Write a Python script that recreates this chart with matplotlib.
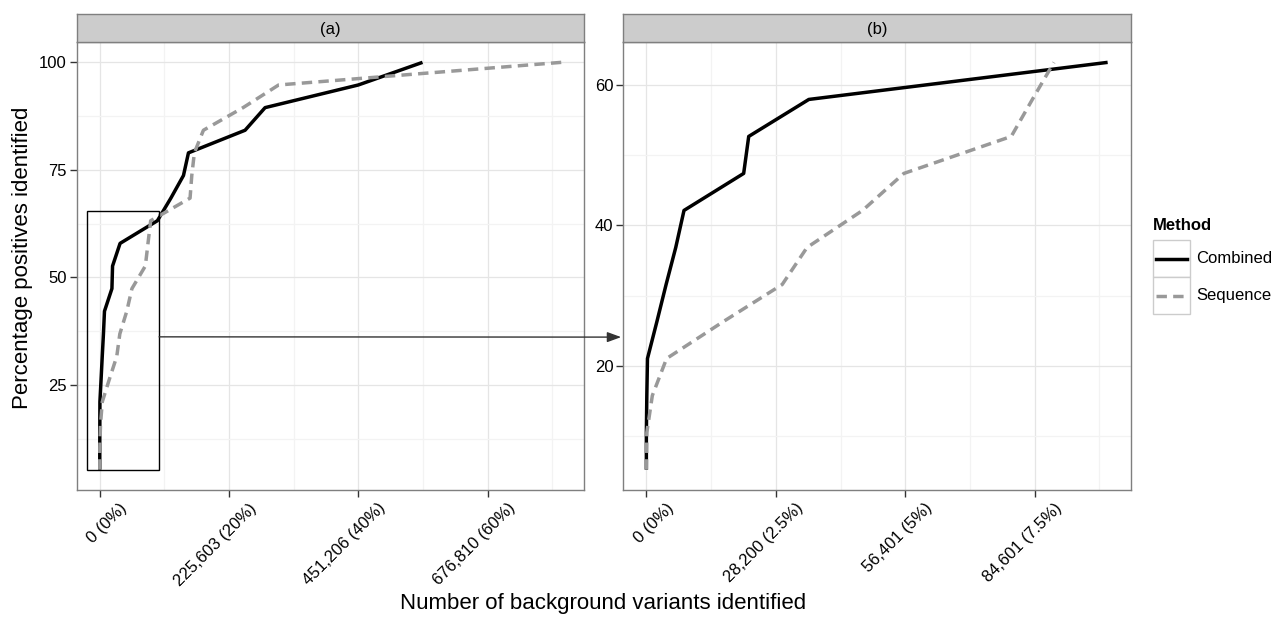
import matplotlib
matplotlib.use("Agg")
import matplotlib.pyplot as plt
from matplotlib.patches import Rectangle, ConnectionPatch
from matplotlib.lines import Line2D
from matplotlib.transforms import ScaledTranslation
import numpy as np

plt.rcParams['font.family'] = ['Liberation Sans', 'DejaVu Sans']

# 19 positives -> each step is one more positive found
pct_found = [5.26, 10.53, 15.79, 21.05, 26.32, 31.58, 36.84, 42.11, 47.37, 52.63,
             57.89, 63.16, 68.42, 73.68, 78.95, 84.21, 89.47, 94.74, 100.0]
combined_bg = [0, 0, 100, 240, 2300, 4300, 6400, 8200, 21200, 22300,
               35400, 100500, 124000, 146000, 154700, 253500, 288400, 451000, 563000]
sequence_bg = [0, 100, 1300, 4400, 16800, 29600, 35000, 47100, 56100, 79500,
               84100, 88800, 157500, 160500, 165000, 180800, 250000, 312000, 805000]
methods = ["Combined", "Sequence"]
total_bg = 1128016
n_zoom = 12  # panel (b) shows the first 12 positives

ticks_a_pct = [0, 20, 40, 60]
ticks_a_labels = ["0 (0%)", "225,603 (20%)", "451,206 (40%)", "676,810 (60%)"]
ticks_b_pct = [0, 2.5, 5, 7.5]
ticks_b_labels = ["0 (0%)", "28,200 (2.5%)", "56,401 (5%)", "84,601 (7.5%)"]
yticks_a = [25, 50, 75, 100]
yticks_b = [20, 40, 60]

styles = {"Combined": dict(color="black", lw=2.5, ls="-"),
          "Sequence": dict(color="#999999", lw=2.5, ls=(0, (3.0, 1.8)))}

W, H = 1276, 619
fig = plt.figure(figsize=(W / 100, H / 100), dpi=100)


def add_panel(left_px, right_px, title):
    ax = fig.add_axes([left_px / W, (H - 490) / H, (right_px - left_px) / W, 448 / H])
    st = fig.add_axes([left_px / W, (H - 42) / H, (right_px - left_px) / W, 28 / H])
    st.set_facecolor("#CCCCCC")
    st.set_xticks([])
    st.set_yticks([])
    for s in st.spines.values():
        s.set_color("#7F7F7F")
        s.set_linewidth(1.0)
    st.text(0.5, 0.45, title, ha="center", va="center", fontsize=12, transform=st.transAxes)
    return ax


def expand(lo, hi):
    span = hi - lo
    return lo - 0.05 * span, hi + 0.05 * span


def mids(majors, lo, hi):
    majors = np.asarray(majors, dtype=float)
    step = majors[1] - majors[0]
    cand = np.concatenate([[majors[0] - step / 2], majors + step / 2])
    return [m for m in cand if lo <= m <= hi]


def style_axes(ax, xt, xl, yt):
    xlo, xhi = ax.get_xlim()
    ylo, yhi = ax.get_ylim()
    ax.set_xticks(xt)
    ax.set_xticklabels(xl, rotation=45, ha="right", va="center", rotation_mode="anchor", fontsize=12)
    ax.set_yticks(yt)
    ax.set_yticklabels([str(v) for v in yt], fontsize=12)
    ax.set_xticks(mids(xt, xlo, xhi), minor=True)
    ax.set_yticks(mids(yt, ylo, yhi), minor=True)
    ax.tick_params(which="minor", length=0)
    ax.tick_params(which="major", length=5, width=1.0, color="#333333", pad=2)
    ax.grid(which="major", color="#E5E5E5", lw=0.9)
    ax.grid(which="minor", color="#F3F3F3", lw=0.9)
    ax.set_axisbelow(True)
    for s in ax.spines.values():
        s.set_color("#7F7F7F")
        s.set_linewidth(1.0)
    off = ScaledTranslation(0.25, -0.06, fig.dpi_scale_trans)
    for lab in ax.get_xticklabels():
        lab.set_transform(lab.get_transform() + off)


# panel (a): everything
ax_a = add_panel(76.7, 584.3, "(a)")
data = {"Combined": combined_bg, "Sequence": sequence_bg}
for m in methods:
    ax_a.plot(data[m], pct_found, solid_capstyle="butt", **styles[m])
allx = combined_bg + sequence_bg
ax_a.set_xlim(*expand(min(allx), max(allx)))
ax_a.set_ylim(*expand(min(pct_found), max(pct_found)))
style_axes(ax_a, [total_bg * p / 100 for p in ticks_a_pct], ticks_a_labels, yticks_a)

# panel (b): zoom on the first positives
ax_b = add_panel(623.3, 1130.7, "(b)")
for m in methods:
    ax_b.plot(data[m][:n_zoom], pct_found[:n_zoom], solid_capstyle="butt", **styles[m])
bx = combined_bg[:n_zoom] + sequence_bg[:n_zoom]
ax_b.set_xlim(*expand(min(bx), max(bx)))
ax_b.set_ylim(*expand(min(pct_found[:n_zoom]), max(pct_found[:n_zoom])))
style_axes(ax_b, [total_bg * p / 100 for p in ticks_b_pct], ticks_b_labels, yticks_b)

# zoom box + arrow
box_x0, box_x1, box_y1 = -22700, 103500, 65.5
ax_a.add_patch(Rectangle((box_x0, pct_found[0]), box_x1 - box_x0, box_y1 - pct_found[0],
                         fill=False, edgecolor="black", lw=1.0, zorder=4))
arrow = ConnectionPatch(xyA=(box_x1, 36.15), coordsA=ax_a.transData,
                        xyB=(-5500, 24.1), coordsB=ax_b.transData,
                        arrowstyle="-|>,head_length=0.6,head_width=0.22", mutation_scale=14,
                        color="#333333", lw=1.0, shrinkA=0, shrinkB=0)
fig.add_artist(arrow)

# axis titles
fig.text(23 / W, 1 - 258 / H, "Percentage positives identified", rotation=90,
         ha="center", va="center", fontsize=16)
fig.text(603 / W, 1 - 604 / H, "Number of background variants identified",
         ha="center", va="center", fontsize=16)

# legend, drawn ggplot-style
ov = fig.add_axes([0, 0, 1, 1], facecolor="none")
ov.set_xlim(0, W)
ov.set_ylim(H, 0)
ov.axis("off")
ov.text(1153, 225, "Method", fontsize=12, fontweight="bold", ha="left", va="center")
for i, m in enumerate(methods):
    top = 240 + 37 * i
    ov.add_patch(Rectangle((1153, top), 37, 37, facecolor="white", edgecolor="#CCCCCC", lw=1.0))
    ov.add_line(Line2D([1156, 1187], [top + 18.5, top + 18.5], **styles[m]))
    ov.text(1196, top + 18.5, m, fontsize=12, ha="left", va="center")

fig.savefig("out.png", dpi=100)
